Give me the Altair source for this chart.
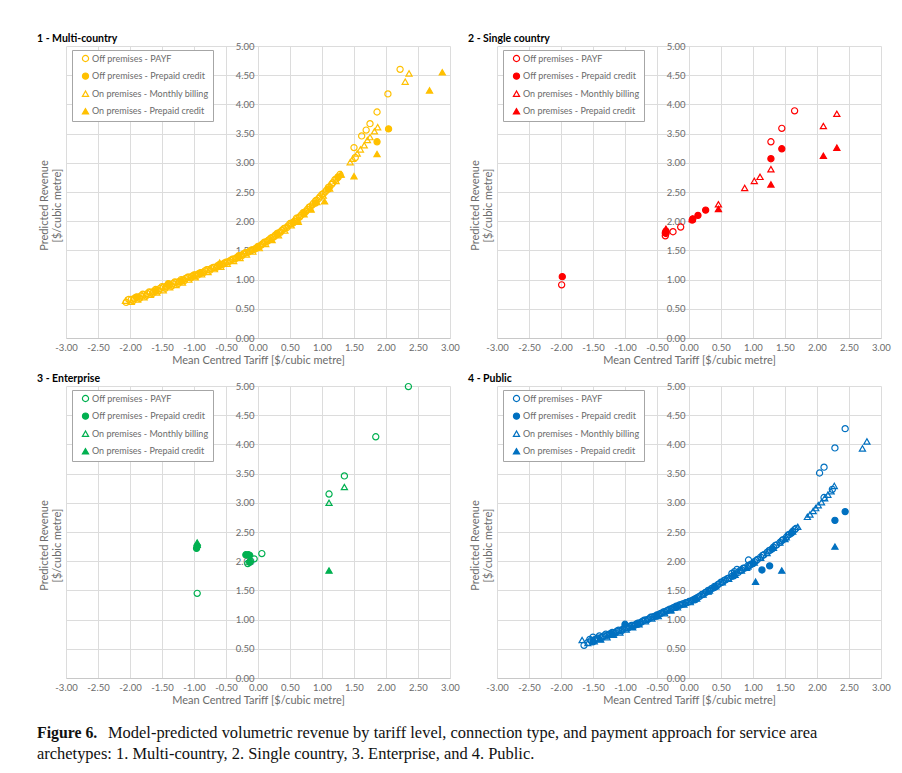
import altair as alt
import pandas as pd

categories = ["Off premises - PAYF", "Off premises - Prepaid credit",
              "On premises - Monthly billing", "On premises - Prepaid credit"]
panel_titles = ["1 - Multi-country", "2 - Single country", "3 - Enterprise", "4 - Public"]
panel_colors = ["#FFC000", "#FF0000", "#00B050", "#0070C0"]
x_ticks = [-3.0, -2.5, -2.0, -1.5, -1.0, -0.5, 0.0, 0.5, 1.0, 1.5, 2.0, 2.5, 3.0]
y_ticks = [0.0, 0.5, 1.0, 1.5, 2.0, 2.5, 3.0, 3.5, 4.0, 4.5, 5.0]
x_title = "Mean Centred Tariff [$/cubic metre]"
y_title = ["Predicted Revenue", "[$/cubic metre]"]
caption_bold = "Figure 6."
caption_line1 = ("Model-predicted volumetric revenue by tariff level, connection type, "
                 "and payment approach for service area")
caption_line2 = "archetypes: 1. Multi-country, 2. Single country, 3. Enterprise, and 4. Public."

# ---------------- Panel 1 - Multi-country ----------------
p1_payf_x = [-2.06, -2.02, -1.95, -1.90, -1.85, -1.80, -1.75, -1.70, -1.65, -1.60, -1.55, -1.50,
             -1.45, -1.40, -1.35, -1.30, -1.25, -1.20, -1.15, -1.10, -1.05, -1.00, -0.95, -0.90,
             -0.85, -0.80, -0.75, -0.70, -0.65, -0.60, -0.55, -0.50, -0.45, -0.40, -0.35, -0.30,
             -0.25, -0.20, -0.15, -0.10, -0.05, 0.00, 0.05, 0.10, 0.15, 0.20, 0.25, 0.30, 0.35,
             0.40, 0.45, 0.50, 0.55, 0.60, 0.65, 0.70, 0.75, 0.80, 0.85, 0.90, 0.95, 1.00, 1.05,
             1.10, 1.15, 1.20, 1.25, 1.28, 1.52, 1.50, 1.62, 1.69, 1.75, 1.86, 2.03, 2.22]
p1_payf_y = [0.61, 0.66, 0.64, 0.70, 0.68, 0.75, 0.72, 0.79, 0.76, 0.83, 0.81, 0.88,
             0.85, 0.92, 0.89, 0.96, 0.93, 1.00, 0.98, 1.04, 1.03, 1.08, 1.07, 1.12,
             1.12, 1.17, 1.16, 1.21, 1.21, 1.26, 1.26, 1.30, 1.31, 1.35, 1.36, 1.41,
             1.41, 1.46, 1.47, 1.51, 1.52, 1.57, 1.59, 1.64, 1.66, 1.71, 1.73, 1.79, 1.81,
             1.87, 1.89, 1.96, 1.98, 2.05, 2.07, 2.14, 2.17, 2.24, 2.28, 2.35, 2.39, 2.46, 2.50,
             2.58, 2.63, 2.71, 2.76, 2.80, 3.09, 3.26, 3.46, 3.56, 3.67, 3.87, 4.18, 4.60]
p1_payf_band_x = [-1.98, -1.93, -1.88, -1.83, -1.78, -1.73, -1.68, -1.63, -1.58, -1.53,
                  -1.48, -1.43, -1.38, -1.33, -1.28, -1.23, -1.18, -1.13, -1.08, -1.03,
                  -0.98, -0.93, -0.88, -0.83, -0.78, -0.73, -0.68, -0.63, -0.58, -0.53,
                  -0.48, -0.43, -0.38, -0.33, -0.28, -0.23, -0.18, -0.13, -0.08, -0.03,
                  0.02, 0.07, 0.12, 0.17, 0.22, 0.27, 0.32, 0.37, 0.42, 0.47,
                  0.52, 0.57, 0.62, 0.67, 0.72, 0.77, 0.82, 0.87, 0.92, 0.97,
                  1.02, 1.07, 1.12, 1.17, 1.22]
p1_payf_band_y = [0.66, 0.68, 0.70, 0.72, 0.74, 0.76, 0.78, 0.80, 0.82, 0.85,
                  0.87, 0.89, 0.91, 0.93, 0.95, 0.97, 0.99, 1.02, 1.04, 1.06,
                  1.08, 1.10, 1.12, 1.15, 1.17, 1.19, 1.21, 1.24, 1.26, 1.28,
                  1.30, 1.33, 1.35, 1.38, 1.41, 1.44, 1.46, 1.49, 1.51, 1.54,
                  1.57, 1.61, 1.64, 1.68, 1.72, 1.76, 1.80, 1.84, 1.88, 1.92,
                  1.96, 2.00, 2.05, 2.10, 2.15, 2.20, 2.25, 2.31, 2.36, 2.42,
                  2.47, 2.53, 2.59, 2.66, 2.72]
p1_ppc_x = [-1.90, -1.60, -1.40, -1.20, -0.90, -0.60, -0.30, 0.00, 0.30, 0.55, 0.72, 0.90,
            1.10, 1.25, 1.86, 2.04]
p1_ppc_y = [0.70, 0.80, 0.93, 0.97, 1.10, 1.24, 1.39, 1.55, 1.77, 1.97, 2.13, 2.31,
            2.55, 2.75, 3.36, 3.58]
p1_mb_x = [-2.07, -1.98, -1.88, -1.78, -1.68, -1.58, -1.48, -1.38, -1.28, -1.18, -1.08, -0.98,
           -0.88, -0.78, -0.68, -0.58, -0.48, -0.38, -0.28, -0.18, -0.08, 0.02, 0.12, 0.22,
           0.32, 0.42, 0.52, 0.62, 0.72, 0.82, 0.92, 1.02, 1.12, 1.22, 1.30, 1.44, 1.48, 1.55,
           1.60, 1.66, 1.71, 1.75, 1.82, 1.87, 2.30, 2.36]
p1_mb_y = [0.64, 0.62, 0.66, 0.70, 0.74, 0.78, 0.82, 0.87, 0.91, 0.95, 1.00, 1.04,
           1.09, 1.13, 1.18, 1.22, 1.27, 1.32, 1.37, 1.43, 1.48, 1.54, 1.61, 1.68,
           1.76, 1.84, 1.93, 2.02, 2.12, 2.22, 2.33, 2.44, 2.56, 2.69, 2.80, 3.01, 3.07, 3.16,
           3.23, 3.30, 3.39, 3.44, 3.54, 3.61, 4.39, 4.53]
p1_onppc_x = [-1.42, -1.00, -0.60, 0.20, 0.63, 0.83, 1.04, 1.29, 1.50, 1.86, 2.68, 2.88]
p1_onppc_y = [0.92, 1.06, 1.29, 1.69, 1.99, 2.20, 2.34, 2.80, 2.77, 3.15, 4.24, 4.55]

# ---------------- Panel 2 - Single country ----------------
p2_payf_x = [-1.99, -0.37, -0.36, -0.25, -0.13, 1.28, 1.45, 1.65]
p2_payf_y = [0.91, 1.75, 1.79, 1.82, 1.90, 3.36, 3.59, 3.89]
p2_ppc_x = [-1.98, -0.37, -0.36, 0.05, 0.06, 0.14, 0.26, 1.28, 1.45]
p2_ppc_y = [1.05, 1.80, 1.83, 2.02, 2.04, 2.10, 2.19, 3.07, 3.24]
p2_mb_x = [-0.36, 0.46, 0.87, 1.02, 1.11, 1.28, 2.10, 2.31]
p2_mb_y = [1.85, 2.29, 2.57, 2.69, 2.76, 2.89, 3.63, 3.84]
p2_onppc_x = [-0.36, 0.05, 0.46, 1.28, 2.10, 2.31]
p2_onppc_y = [1.87, 2.04, 2.21, 2.63, 3.12, 3.26]

# ---------------- Panel 3 - Enterprise ----------------
p3_payf_x = [-0.95, -0.16, -0.12, -0.06, 0.06, 1.11, 1.35, 1.84, 2.35]
p3_payf_y = [1.45, 1.96, 2.00, 2.04, 2.13, 3.15, 3.46, 4.13, 4.99]
p3_ppc_x = [-0.96, -0.95, -0.19, -0.15, -0.13, -0.13]
p3_ppc_y = [2.22, 2.26, 2.11, 2.11, 2.10, 1.98]
p3_mb_x = [1.11, 1.35]
p3_mb_y = [3.00, 3.27]
p3_onppc_x = [-0.95, -0.95, 1.11]
p3_onppc_y = [2.28, 2.32, 1.84]

# ---------------- Panel 4 - Public ----------------
p4_payf_x = [-1.64, -1.55, -1.50, -1.45, -1.40, -1.35, -1.30, -1.25, -1.20, -1.15, -1.10, -1.05,
             -1.00, -0.95, -0.90, -0.85, -0.80, -0.75, -0.70, -0.65, -0.60, -0.55, -0.50, -0.45,
             -0.40, -0.35, -0.30, -0.25, -0.20, -0.15, -0.10, -0.05, 0.00, 0.05, 0.10, 0.15,
             0.20, 0.25, 0.30, 0.35, 0.40, 0.45, 0.50, 0.55, 0.60, 0.67, 0.71, 0.75, 0.80, 0.85,
             0.93, 0.95, 1.05, 1.15, 1.25, 1.35, 1.45, 1.55, 1.65, 2.04, 2.11, 2.11, 2.24, 2.28,
             2.44]
p4_payf_y = [0.56, 0.66, 0.70, 0.67, 0.72, 0.70, 0.75, 0.74, 0.78, 0.77, 0.82, 0.81,
             0.86, 0.86, 0.90, 0.90, 0.94, 0.95, 0.99, 1.00, 1.04, 1.05, 1.08, 1.10,
             1.13, 1.15, 1.18, 1.20, 1.23, 1.25, 1.27, 1.29, 1.31, 1.33, 1.36, 1.39,
             1.43, 1.46, 1.50, 1.53, 1.57, 1.60, 1.64, 1.67, 1.70, 1.79, 1.82, 1.86, 1.84, 1.88,
             2.02, 1.93, 2.01, 2.10, 2.18, 2.27, 2.35, 2.45, 2.54, 3.51, 3.61, 3.09, 3.23, 3.94,
             4.27]
p4_payf_band_x = [-1.58, -1.53, -1.48, -1.43, -1.38, -1.33, -1.28, -1.23, -1.18, -1.13,
                  -1.08, -1.03, -0.98, -0.93, -0.88, -0.83, -0.78, -0.73, -0.68, -0.63,
                  -0.58, -0.53, -0.48, -0.43, -0.38, -0.33, -0.28, -0.23, -0.18, -0.13,
                  -0.08, -0.03, 0.02, 0.07, 0.12, 0.17, 0.22, 0.27, 0.32, 0.37,
                  0.42, 0.47, 0.52, 0.57, 0.62, 0.67, 0.72, 0.77, 0.82, 0.87,
                  0.92, 0.97, 1.02, 1.07, 1.12, 1.17, 1.22, 1.27, 1.32, 1.37,
                  1.42, 1.47, 1.52, 1.57, 1.62, 1.67]
p4_payf_band_y = [0.61, 0.64, 0.65, 0.68, 0.69, 0.72, 0.73, 0.76, 0.77, 0.80,
                  0.81, 0.84, 0.86, 0.88, 0.90, 0.92, 0.94, 0.97, 0.99, 1.01,
                  1.04, 1.06, 1.08, 1.11, 1.13, 1.16, 1.18, 1.21, 1.23, 1.25,
                  1.27, 1.29, 1.31, 1.34, 1.37, 1.40, 1.43, 1.47, 1.50, 1.54,
                  1.57, 1.61, 1.64, 1.68, 1.71, 1.74, 1.78, 1.81, 1.85, 1.88,
                  1.92, 1.95, 1.99, 2.03, 2.07, 2.11, 2.15, 2.19, 2.24, 2.28,
                  2.32, 2.37, 2.41, 2.46, 2.51, 2.56]
p4_ppc_x = [-1.50, -1.20, -1.00, -0.80, -0.50, -0.20, 0.10, 0.40, 0.70, 1.00, 1.30, 1.60,
            1.14, 1.26, 2.28, 2.44]
p4_ppc_y = [0.62, 0.75, 0.92, 0.92, 1.06, 1.21, 1.34, 1.55, 1.75, 1.96, 2.21, 2.48,
            1.85, 1.92, 2.70, 2.85]
p4_mb_x = [-1.67, -1.58, -1.48, -1.38, -1.28, -1.18, -1.08, -0.98, -0.88, -0.78, -0.68, -0.58,
           -0.48, -0.38, -0.28, -0.18, -0.08, 0.02, 0.12, 0.22, 0.32, 0.42, 0.52, 0.62, 0.72,
           0.82, 0.92, 1.02, 1.12, 1.22, 1.32, 1.42, 1.52, 1.62, 1.70, 1.85, 1.89, 1.94, 1.98,
           2.02, 2.07, 2.12, 2.17, 2.22, 2.27, 2.71, 2.78]
p4_mb_y = [0.65, 0.60, 0.63, 0.66, 0.70, 0.74, 0.78, 0.83, 0.87, 0.92, 0.97, 1.02,
           1.06, 1.11, 1.16, 1.21, 1.26, 1.30, 1.36, 1.43, 1.50, 1.57, 1.64, 1.70, 1.77,
           1.84, 1.91, 1.98, 2.06, 2.14, 2.23, 2.32, 2.41, 2.51, 2.59, 2.76, 2.80, 2.86, 2.91,
           2.96, 3.01, 3.08, 3.14, 3.20, 3.29, 3.93, 4.05]
p4_onppc_x = [-1.40, -0.90, -0.30, 0.30, 0.90, 1.50, 1.04, 1.45, 2.28]
p4_onppc_y = [0.67, 0.88, 1.16, 1.48, 1.89, 2.38, 1.65, 1.84, 2.25]

panel_series = [
    [(p1_payf_x + p1_payf_band_x, p1_payf_y + p1_payf_band_y), (p1_ppc_x, p1_ppc_y),
     (p1_mb_x, p1_mb_y), (p1_onppc_x, p1_onppc_y)],
    [(p2_payf_x, p2_payf_y), (p2_ppc_x, p2_ppc_y), (p2_mb_x, p2_mb_y), (p2_onppc_x, p2_onppc_y)],
    [(p3_payf_x, p3_payf_y), (p3_ppc_x, p3_ppc_y), (p3_mb_x, p3_mb_y), (p3_onppc_x, p3_onppc_y)],
    [(p4_payf_x + p4_payf_band_x, p4_payf_y + p4_payf_band_y), (p4_ppc_x, p4_ppc_y),
     (p4_mb_x, p4_mb_y), (p4_onppc_x, p4_onppc_y)],
]

W, H = 384, 292
GRAY = "#6b6b6b"
FONT = "Lato"
minus_fix = "replace(format(datum.value, '.2f'), '\u2212', '-')"
independent = dict(shape="independent", fill="independent", stroke="independent")


def make_panel(i):
    rows = []
    for cat, (xs, ys) in zip(categories, panel_series[i]):
        assert len(xs) == len(ys), (i, cat)
        for xv, yv in zip(xs, ys):
            rows.append({"x": xv, "y": yv, "cat": cat})
    df = pd.DataFrame(rows)
    color = panel_colors[i]
    legend = alt.Legend(title=None, orient="none", legendX=6, legendY=4)
    return alt.Chart(
        df,
        title=alt.TitleParams(panel_titles[i], anchor="start", frame="group", dx=-29,
                              offset=-3, fontSize=10.5, fontWeight="bold", font=FONT,
                              color="#000000"),
    ).mark_point(size=38, strokeWidth=1.2, opacity=1).encode(
        x=alt.X("x:Q", scale=alt.Scale(domain=[-3, 3], nice=False, zero=False),
                axis=alt.Axis(values=x_ticks, labelExpr=minus_fix, title=x_title,
                              ticks=False, domainColor="#c8c8c8", labelPadding=4,
                              labelFlush=False, labelOverlap=False, titlePadding=3)),
        y=alt.Y("y:Q", scale=alt.Scale(domain=[0, 5], nice=False),
                axis=alt.Axis(values=y_ticks, format=".2f", offset=-W / 2, domain=False,
                              ticks=False, labelPadding=4, labelOverlap=False, title=y_title,
                              titleX=-W / 2 - 22, titleY=H / 2 + 13, titleAngle=-90,
                              titleBaseline="middle", titleAlign="center")),
        shape=alt.Shape("cat:N", scale=alt.Scale(domain=categories,
                        range=["circle", "circle", "triangle-up", "triangle-up"]), legend=legend),
        fill=alt.Fill("cat:N", scale=alt.Scale(domain=categories,
                      range=["transparent", color, "transparent", color]), legend=legend),
        stroke=alt.Stroke("cat:N", scale=alt.Scale(domain=categories,
                          range=[color, color, color, color]), legend=legend),
    ).properties(width=W, height=H)


panels = [make_panel(i) for i in range(4)]

row1 = alt.hconcat(panels[0], panels[1], spacing=8).resolve_scale(**independent)
row2 = alt.hconcat(panels[2], panels[3], spacing=8).resolve_scale(**independent)
grid = alt.vconcat(row1, row2, spacing=7).resolve_scale(**independent)

cap_style = dict(font="Liberation Serif", align="left", baseline="alphabetic",
                 color="#111111")
cap1 = alt.Chart(pd.DataFrame({"t": [caption_bold]})).mark_text(
    fontWeight="bold", fontSize=15.8, **cap_style).encode(
    text="t:N", x=alt.value(-29), y=alt.value(16))
cap2 = alt.Chart(pd.DataFrame({"t": [caption_line1]})).mark_text(
    fontSize=16.45, **cap_style).encode(text="t:N", x=alt.value(42), y=alt.value(16))
cap3 = alt.Chart(pd.DataFrame({"t": [caption_line2]})).mark_text(
    fontSize=16.45, **cap_style).encode(text="t:N", x=alt.value(-29), y=alt.value(37))
caption = alt.layer(cap1, cap2, cap3).properties(width=780, height=40)

chart = alt.vconcat(grid, caption, spacing=16).resolve_scale(**independent).properties(
    padding={"left": 37, "top": 33, "right": 5, "bottom": 5},
    background="white",
).configure_view(stroke=None).configure_axis(
    labelFont=FONT, labelFontSize=9.5, labelColor=GRAY,
    titleFont=FONT, titleFontSize=11, titleFontWeight="normal", titleColor=GRAY,
    gridColor="#dcdcdc", gridWidth=1,
).configure_legend(
    labelFont=FONT, labelFontSize=9, labelColor=GRAY,
    strokeColor="#a6a6a6", fillColor="white", padding=4, rowPadding=6.6,
    symbolOffset=5, labelOffset=2, symbolSize=38, symbolStrokeWidth=1.2,
    labelLimit=300,
)

chart.save("out.html", embed_options={"renderer": "svg", "actions": False})
